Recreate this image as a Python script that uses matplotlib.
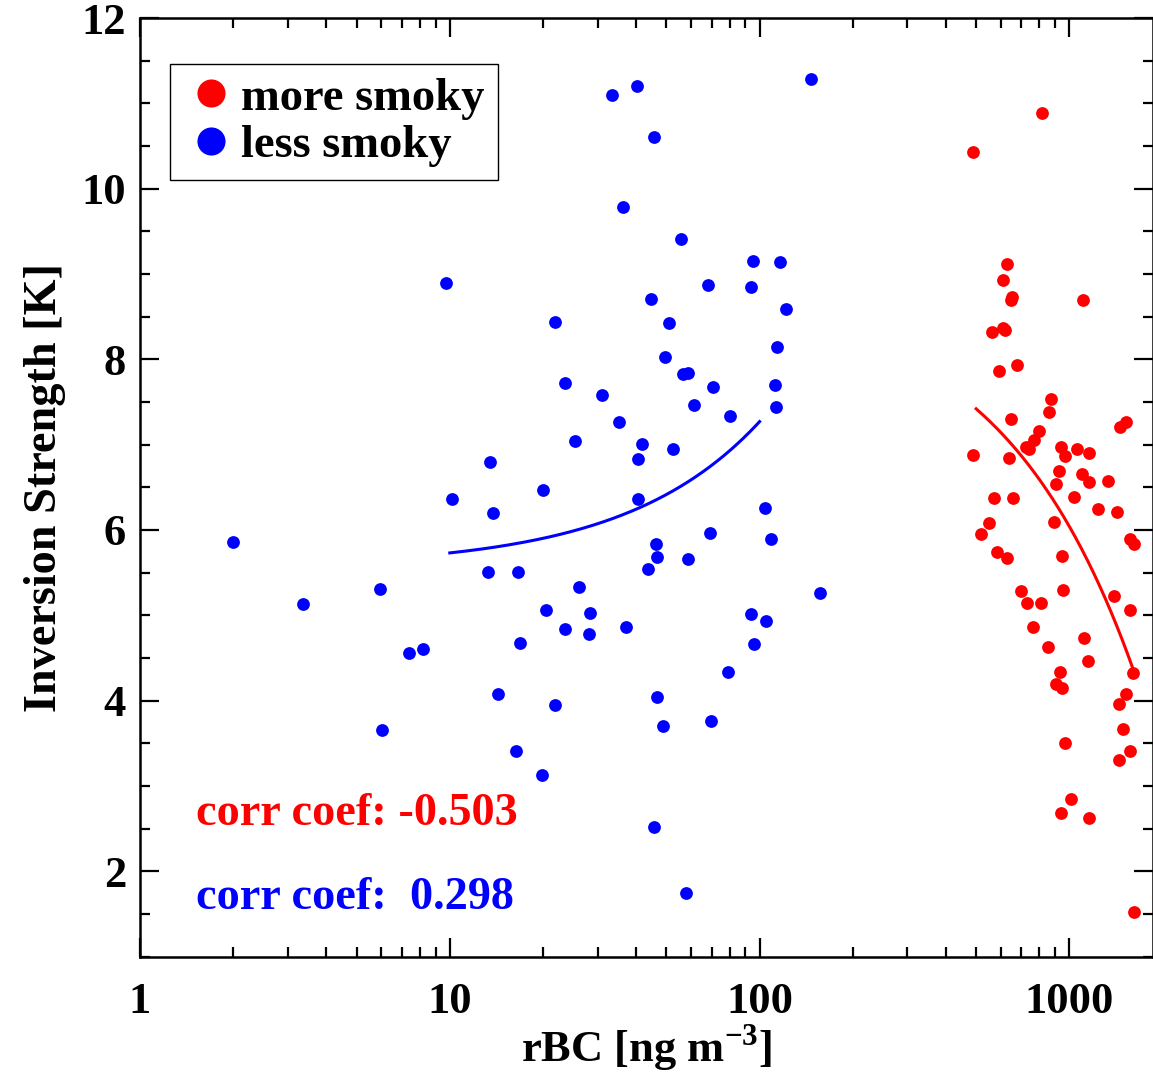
import numpy as np
import matplotlib
matplotlib.use('Agg')
import matplotlib.pyplot as plt
from matplotlib.ticker import LogLocator, MultipleLocator, FixedLocator, NullFormatter

plt.rcParams['font.family'] = ['Liberation Serif', 'DejaVu Serif']
plt.rcParams['font.weight'] = 'bold'
plt.rcParams['axes.labelweight'] = 'bold'
plt.rcParams['mathtext.fontset'] = 'custom'
plt.rcParams['mathtext.rm'] = 'Liberation Serif:bold'

# less smoky (blue) points: rBC [ng m-3], inversion strength [K]
blue_x = [2.0, 3.35, 5.96, 7.4, 8.2, 6.05, 9.7,
          33.3, 40.1, 147, 45.5, 36.1, 55.7, 95, 116, 68, 94, 44.6, 122,
          21.9, 50.9, 114, 49.4, 56.5, 58.7, 23.5, 112,
          70.5, 30.9, 61.5, 113, 80, 35.2, 25.4, 41.6, 52.6, 40.6, 13.5,
          20.0, 10.2, 40.6, 13.75, 104, 69, 108.5, 46.3, 46.6, 58.8, 43.5,
          13.3, 16.6, 157, 26.1, 20.5, 28.3, 94, 105, 23.5, 37.1, 28.2,
          16.8, 96, 79,
          14.3, 21.9, 46.7, 48.6, 69.6, 16.4, 19.8, 45.5, 57.8]
blue_y = [5.86, 5.13, 5.31, 4.56, 4.60, 3.65, 8.90,
          11.10, 11.20, 11.28, 10.60, 9.78, 9.41, 9.15, 9.14, 8.87, 8.85, 8.71, 8.59,
          8.44, 8.42, 8.15, 8.03, 7.83, 7.84, 7.72, 7.70,
          7.68, 7.58, 7.46, 7.44, 7.34, 7.26, 7.04, 7.01, 6.95, 6.83, 6.80,
          6.47, 6.36, 6.36, 6.20, 6.26, 5.97, 5.89, 5.83, 5.68, 5.66, 5.54,
          5.51, 5.51, 5.26, 5.33, 5.06, 5.03, 5.02, 4.93, 4.84, 4.86, 4.78,
          4.67, 4.66, 4.34,
          4.08, 3.95, 4.04, 3.70, 3.76, 3.41, 3.13, 2.52, 1.75]

# more smoky (red) points
red_x = [815, 490, 630, 612, 655, 647, 1108, 562, 612, 619, 678, 593,
         873, 862, 649, 1452, 1526, 797, 770, 725, 740, 488, 638, 936,
         971, 1060, 1156, 927, 1098, 1156, 1335, 907, 570, 660, 1034,
         1236, 1424, 549, 893, 518, 1564, 1611, 586, 631, 948, 700, 955,
         1392, 731, 811, 1564, 764, 852, 1116, 1150, 1604, 934, 902, 948,
         1523, 1445, 1484, 971, 1572, 1445, 1011, 936, 1159, 1616]
red_y = [10.89, 10.43, 9.12, 8.93, 8.73, 8.70, 8.70, 8.32, 8.37, 8.34, 7.93, 7.86,
         7.53, 7.38, 7.30, 7.21, 7.26, 7.16, 7.06, 6.97, 6.95, 6.88, 6.84, 6.97,
         6.87, 6.95, 6.90, 6.69, 6.66, 6.56, 6.57, 6.54, 6.37, 6.37, 6.39,
         6.24, 6.21, 6.08, 6.09, 5.95, 5.89, 5.84, 5.74, 5.67, 5.70, 5.28, 5.30,
         5.23, 5.14, 5.14, 5.06, 4.86, 4.63, 4.73, 4.47, 4.32, 4.33, 4.19, 4.15,
         4.08, 3.96, 3.67, 3.50, 3.41, 3.30, 2.85, 2.68, 2.62, 1.52]

# linear fits (y = a + b*x), with their x ranges
blue_fit = (5.56, 0.0171)
blue_fit_range = (10, 100)
red_fit = (8.80, -0.00276)
red_fit_range = (500, 1604)

blue_corr = 0.298
red_corr = -0.503

fig = plt.figure(figsize=(11.53, 10.73), dpi=100)
ax = fig.add_axes([0.1214, 0.1085, 0.8782, 0.8747])

ax.plot(red_x, red_y, 'o', color='red', markersize=9.2, markeredgewidth=0, label='more smoky')
ax.plot(blue_x, blue_y, 'o', color='blue', markersize=9.2, markeredgewidth=0, label='less smoky')

xf = np.linspace(*blue_fit_range, 200)
ax.plot(xf, blue_fit[0] + blue_fit[1] * xf, color='blue', lw=2.2)
xf = np.linspace(*red_fit_range, 200)
ax.plot(xf, red_fit[0] + red_fit[1] * xf, color='red', lw=2.2)

ax.set_xscale('log')
ax.set_xlim(1, 1855)
ax.set_ylim(1, 12)

ax.xaxis.set_major_locator(FixedLocator([1, 10, 100, 1000]))
ax.set_xticklabels(['1', '10', '100', '1000'])
ax.xaxis.set_minor_locator(LogLocator(base=10, subs=np.arange(2, 10), numticks=20))
ax.xaxis.set_minor_formatter(NullFormatter())
ax.yaxis.set_major_locator(MultipleLocator(2))
ax.yaxis.set_minor_locator(MultipleLocator(0.5))
ax.set_yticks([2, 4, 6, 8, 10, 12])

ax.tick_params(which='both', direction='in', top=True, right=True, width=1.6)
ax.tick_params(which='major', length=14, labelsize=32)
ax.tick_params(axis='y', which='major', pad=10)
ax.tick_params(axis='x', which='major', pad=18)
ax.tick_params(which='minor', length=7)
for sp in ax.spines.values():
    sp.set_linewidth(1.8)

ax.set_xlabel(r'rBC [ng m$^{\mathregular{-3}}$]', fontsize=32, labelpad=1)
ax.set_ylabel('Inversion Strength [K]', fontsize=33.3, labelpad=11)

ax.text(0.0553, 0.152, f'corr coef: {red_corr:.3f}', transform=ax.transAxes,
        color='red', fontsize=33.3, va='center', ha='left')
ax.text(0.0553, 0.062, f'corr coef:  {blue_corr:.3f}', transform=ax.transAxes,
        color='blue', fontsize=33.3, va='center', ha='left')

leg = ax.legend(loc='upper left', bbox_to_anchor=(0.0296, 0.951), fontsize=33.5,
                markerscale=2.2, handletextpad=0.05, handlelength=1.2,
                borderpad=0.28, labelspacing=0.1, fancybox=False, framealpha=1,
                borderaxespad=0)
leg.get_frame().set_edgecolor('black')
leg.get_frame().set_linewidth(1.0)

fig.savefig('out.png', dpi=100)
